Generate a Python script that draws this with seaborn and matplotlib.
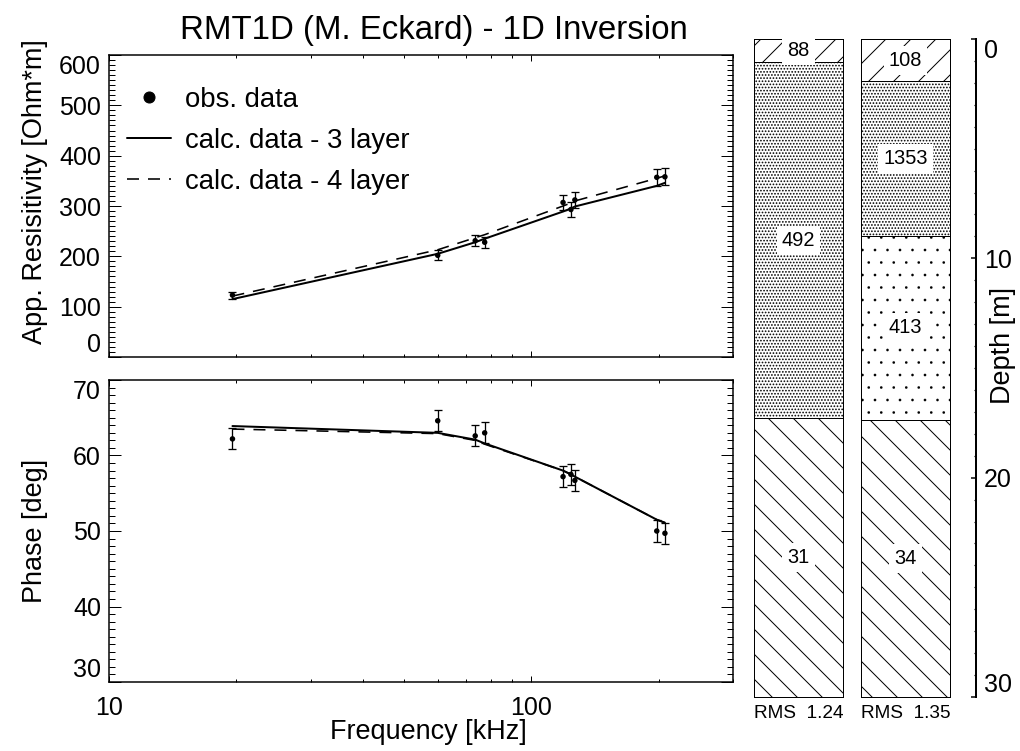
import matplotlib
matplotlib.use("Agg")
import matplotlib.pyplot as plt
import seaborn as sns
import numpy as np
from matplotlib.lines import Line2D
from matplotlib.ticker import MultipleLocator, LogLocator, NullFormatter

# ---------------- data ----------------
title = "RMT1D (M. Eckard) - 1D Inversion"
freq_khz = [19.6, 60.0, 73.6, 77.5, 118.8, 124.0, 126.7, 198.0, 207.0]
rho_obs = [123, 202, 231, 228, 307, 293, 312, 357, 358]
rho_err = [7, 10, 11, 11, 15, 15, 15, 17, 17]
rho_calc3 = [115, 205, 228, 235, 289, 295, 299, 340, 346]
rho_calc4 = [121, 213, 237, 243, 300, 306, 310, 355, 360]
phase_obs = [62.2, 64.6, 62.6, 63.0, 57.2, 57.5, 56.7, 50.0, 49.7]
phase_err = [1.4, 1.4, 1.4, 1.4, 1.4, 1.4, 1.4, 1.4, 1.4]
phase_calc3 = [63.9, 63.0, 62.1, 61.6, 58.0, 57.5, 57.2, 51.5, 51.1]
phase_calc4 = [63.5, 62.9, 62.0, 61.5, 58.0, 57.5, 57.2, 51.5, 51.1]

model3_rho = [88, 492, 31]
model3_bounds = [0.0, 1.03, 17.3, 30.0]
model4_rho = [108, 1353, 413, 34]
model4_bounds = [0.0, 1.92, 8.98, 17.37, 30.0]
rms_values = [1.24, 1.35]

legend_labels = ["obs. data", "calc. data - 3 layer", "calc. data - 4 layer"]
x_ticks = [10, 100]
x_ticklabels = ["10", "100"]
rho_ticks = [0, 100, 200, 300, 400, 500, 600]
phase_ticks = [30, 40, 50, 60, 70]
depth_ticks = [0, 10, 20, 30]

# ---------------- style ----------------
W, H, DPI = 1020, 751, 75
P = 72.0 / DPI  # points per pixel

sns.set_theme(style="ticks")
plt.rcParams.update({
    "font.family": ["Liberation Sans", "DejaVu Sans"],
    "axes.edgecolor": "black",
    "text.color": "black",
    "axes.labelcolor": "black",
    "xtick.color": "black",
    "ytick.color": "black",
    "hatch.linewidth": 1.0 * P,
    "hatch.color": "black",
    "lines.scale_dashes": False,
})

FS = 25 * P
FS_LEG = 27.5 * P
FS_LAB = 27 * P
FS_TITLE = 33 * P
FS_LAYER = 20 * P
FS_RMS = 19 * P

fig = plt.figure(figsize=(W / DPI, H / DPI), dpi=DPI)
fig.patch.set_facecolor("white")


def box(x0, y0, x1, y1):
    return [x0 / W, 1 - y1 / H, (x1 - x0) / W, (y1 - y0) / H]


ax1 = fig.add_axes(box(109, 55, 733, 357))
ax2 = fig.add_axes(box(109, 380, 733, 682))

dash = (12 * P, 9 * P)

for ax, obs, err, c3, c4 in [(ax1, rho_obs, rho_err, rho_calc3, rho_calc4),
                             (ax2, phase_obs, phase_err, phase_calc3, phase_calc4)]:
    ax.errorbar(freq_khz, obs, yerr=err, fmt="none", ecolor="black",
                elinewidth=1.3 * P, capsize=4 * P, capthick=1.3 * P, zorder=3)
    sns.scatterplot(x=freq_khz, y=obs, ax=ax, color="black", s=(5.5 * P) ** 2,
                    edgecolor="none", legend=False, zorder=4)
    sns.lineplot(x=freq_khz, y=c3, ax=ax, color="black", linewidth=2 * P,
                 sort=False, estimator=None, legend=False, zorder=2)
    sns.lineplot(x=freq_khz, y=c4, ax=ax, color="black", linewidth=1.6 * P,
                 sort=False, estimator=None, legend=False, zorder=2)
    ax.lines[-1].set_dashes(dash)
    ax.set_xscale("log")
    ax.set_xlim(10, 300)
    ax.set_xticks(x_ticks)
    ax.set_xticklabels(x_ticklabels)
    ax.xaxis.set_minor_locator(LogLocator(base=10, subs=np.arange(2, 10)))
    ax.xaxis.set_minor_formatter(NullFormatter())
    ax.set_xlabel("")
    ax.set_ylabel("")
    for s in ax.spines.values():
        s.set_linewidth(1.5 * P)
        s.set_visible(True)
    ax.tick_params(axis="both", which="both", direction="in", top=True,
                   right=True, width=1.0 * P, colors="black")
    ax.tick_params(axis="y", which="major", length=12 * P, pad=8 * P, labelsize=FS)
    ax.tick_params(axis="y", which="minor", length=6 * P)
    ax.tick_params(axis="x", which="major", length=6 * P, pad=14 * P, labelsize=FS)
    ax.tick_params(axis="x", which="minor", length=3 * P)

ax1.set_ylim(0, 600)
ax1.set_yticks(rho_ticks)
ax1.yaxis.set_minor_locator(MultipleLocator(10))
ax1.tick_params(axis="x", labelbottom=False)

ax2.set_ylim(30, 70)
ax2.set_yticks(phase_ticks)
ax2.yaxis.set_minor_locator(MultipleLocator(1))

for ax in (ax1, ax2):
    ticks = ax.yaxis.get_major_ticks()
    ticks[0].label1.set_verticalalignment("bottom")
    ticks[-1].label1.set_verticalalignment("top")

handles = [
    Line2D([0], [0], marker="o", ls="none", color="black", markersize=11 * P),
    Line2D([0], [0], color="black", lw=2 * P),
    Line2D([0], [0], color="black", lw=1.6 * P, dashes=dash),
]
ax1.legend(handles, legend_labels, loc="upper left", bbox_to_anchor=(0.029, 0.895),
           frameon=False, fontsize=FS_LEG, handlelength=1.6, handletextpad=0.5,
           labelspacing=0.55, borderpad=0, borderaxespad=0, numpoints=1)

fig.text(434 / W, 1 - 30 / H, title, ha="center", va="center", fontsize=FS_TITLE)
fig.text(35 / W, 1 - 192 / H, "App. Resisitivity [Ohm*m]", rotation=90,
         ha="center", va="center", fontsize=FS_LAB)
fig.text(35 / W, 1 - 531 / H, "Phase [deg]", rotation=90,
         ha="center", va="center", fontsize=FS_LAB)
fig.text(428 / W, 1 - 732 / H, "Frequency [kHz]", ha="center", va="center",
         fontsize=FS_LAB)

# ---------------- layered models ----------------
col1 = fig.add_axes(box(754, 39, 843, 697))
col2 = fig.add_axes(box(861, 39, 950, 697))
hatches3 = ["/", "....", "\\"]
hatches4 = ["/", "....", ".", "\\"]
hatch_lw = {"/": 1.0, "\\": 1.0, "....": 1.1, ".": 0.1}

for ax, rhos, bounds, hats, rms in [(col1, model3_rho, model3_bounds, hatches3, rms_values[0]),
                                    (col2, model4_rho, model4_bounds, hatches4, rms_values[1])]:
    tops = bounds[:-1]
    thick = list(np.diff(bounds))
    bars = ax.bar([0.5] * len(rhos), thick, bottom=tops, width=1.0, color="white",
                  edgecolor="black", linewidth=1.0 * P)
    for b, h in zip(bars, hats):
        b.set_hatch(h)
        if hasattr(b, "set_hatch_linewidth"):
            b.set_hatch_linewidth(hatch_lw[h] * P)
    for rho, t, bt in zip(rhos, bounds[:-1], bounds[1:]):
        ax.text(0.5, (t + bt) / 2, f"{rho}", ha="center", va="center", fontsize=FS_LAYER,
                bbox=dict(boxstyle="square,pad=0.25", fc="white", ec="none"), zorder=5)
    ax.set_xlim(0, 1)
    ax.set_ylim(30, 0)
    ax.set_xticks([])
    ax.set_yticks([])
    for s in ax.spines.values():
        s.set_linewidth(1.0 * P)
        s.set_color("black")
        s.set_visible(True)
    ax.text(0.5, -(714 - 697) / 658, f"RMS  {rms:.2f}", transform=ax.transAxes,
            ha="center", va="center", fontsize=FS_RMS)

# depth axis
axd = fig.add_axes(box(966, 39, 976, 697))
axd.patch.set_visible(False)
for k in ("left", "top", "bottom"):
    axd.spines[k].set_visible(False)
axd.spines["right"].set_linewidth(2 * P)
axd.spines["right"].set_color("black")
axd.set_ylim(30, 0)
axd.set_xticks([])
axd.yaxis.tick_right()
axd.set_yticks(depth_ticks)
axd.yaxis.set_minor_locator(MultipleLocator(1))
axd.tick_params(axis="y", which="both", direction="in", right=True, left=False,
                labelright=True, labelleft=False, colors="black")
axd.tick_params(axis="y", which="major", length=5 * P, width=1.5 * P, pad=8 * P, labelsize=FS)
axd.tick_params(axis="y", which="minor", length=2.5 * P, width=1.2 * P)
dt = axd.yaxis.get_major_ticks()
dt[0].label2.set_verticalalignment("top")
dt[-1].label2.set_verticalalignment("bottom")
fig.text(1003 / W, 1 - 345 / H, "Depth [m]", rotation=90, ha="center", va="center",
         fontsize=FS_LAB)

fig.savefig("out.png", dpi=DPI, facecolor="white")
